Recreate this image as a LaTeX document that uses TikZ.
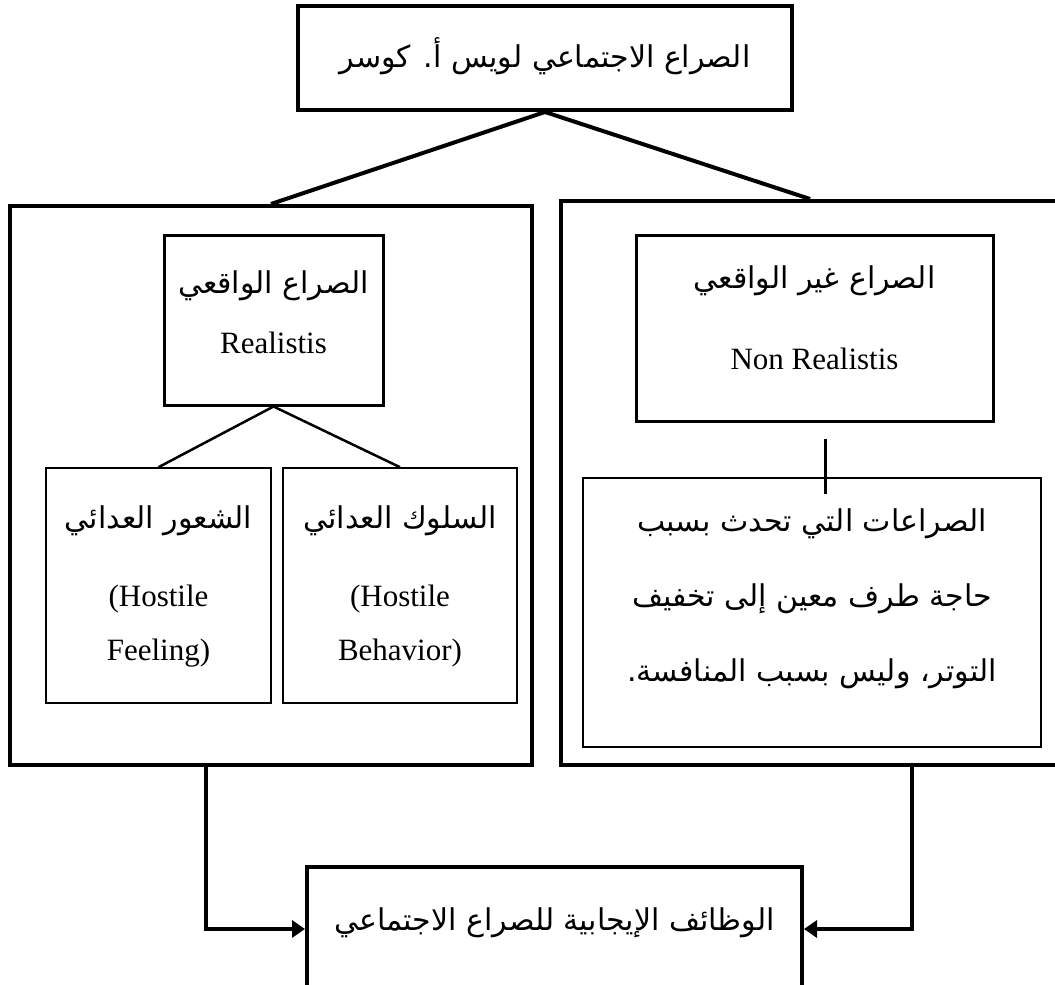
\documentclass[tikz,border=0pt]{standalone}
\usepackage{fontspec}
\setmainfont{Liberation Serif}
\newfontfamily\arabicfont[Script=Arabic]{DejaVu Sans}
\TeXXeTstate=1
\usetikzlibrary{arrows.meta}
\tikzset{
  box/.style={draw, line width=4pt, inner sep=0pt},
  midbox/.style={draw, line width=3pt, inner sep=0pt},
  thinbox/.style={draw, line width=1.6pt, inner sep=0pt},
  ar/.style={inner sep=0pt, font=\arabicfont\fontsize{30}{34}\selectfont},
  en/.style={inner sep=0pt, font=\fontsize{31}{36}\selectfont},
  link/.style={line width=4pt},
  sublink/.style={line width=2.5pt},
  feed/.style={line width=4pt, -{Triangle[length=13pt,width=17pt]}},
}
\begin{document}
\begin{tikzpicture}[x=1pt,y=-1pt]
\useasboundingbox (0,0) rectangle (1055,985);
\clip (0,0) rectangle (1055,985);
% boxes
\node[box, minimum width=494pt, minimum height=104pt] (top) at (545,58) {};
\node[box, minimum width=522pt, minimum height=559pt] (lbox) at (271,485.5) {};
\node[box, minimum width=498pt, minimum height=564pt] (rbox) at (810,483) {};
\node[midbox, minimum width=219pt, minimum height=170pt] (real) at (273.5,320) {};
\node[thinbox, minimum width=225pt, minimum height=235pt] (feel) at (158.5,585.5) {};
\node[thinbox, minimum width=234pt, minimum height=235pt] (behav) at (400,585.5) {};
\node[midbox, minimum width=357pt, minimum height=186pt] (nonreal) at (814.5,328) {};
\node[thinbox, minimum width=458pt, minimum height=269pt] (cause) at (812,612.5) {};
\node[box, minimum width=495pt, minimum height=124pt] (func) at (554.5,929) {};
% texts
\node[ar] (topT) at (545,56) {\beginR الصراع الاجتماعي لويس أ. كوسر\endR};
\node[ar] (realA) at (273.5,286) {\beginR الصراع الواقعي\endR};
\node[en] (realE) at (273.5,343) {Realistis};
\node[ar] (feelA) at (158.5,521) {\beginR الشعور العدائي\endR};
\node[en] (feelE) at (158.5,626) {\begin{tabular}{@{}c@{}}(Hostile\\[18pt] Feeling)\end{tabular}};
\node[ar] (behavA) at (400,521) {\beginR السلوك العدائي\endR};
\node[en] (behavE) at (400,626) {\begin{tabular}{@{}c@{}}(Hostile\\[18pt] Behavior)\end{tabular}};
\node[ar] (nonrealA) at (814.5,281) {\beginR الصراع غير الواقعي\endR};
\node[en] (nonrealE) at (814.5,359) {Non Realistis};
\node[ar] (causeA) at (812,524) {\beginR الصراعات التي تحدث بسبب\endR};
\node[ar] (causeB) at (812,599) {\beginR حاجة طرف معين إلى تخفيف\endR};
\node[ar] (causeC) at (812,674) {\beginR التوتر، وليس بسبب المنافسة.\endR};
\node[ar] (funcT) at (554.5,923) {\beginR الوظائف الإيجابية للصراع الاجتماعي\endR};
% connectors
\draw[link] (top.south) -- (lbox.north);
\draw[link] (top.south) -- (rbox.north);
\draw[sublink] (real.south) -- (feel.north);
\draw[sublink] (real.south) -- (behav.north);
\coordinate (tickA) at (825,439);
\coordinate (tickB) at (825,494);
\draw[line width=3pt] (tickA) -- (tickB);
\draw[feed] ([xshift=-65pt]lbox.south) |- (func.west);
\draw[feed] ([xshift=102pt]rbox.south) |- (func.east);
\end{tikzpicture}
\end{document}
